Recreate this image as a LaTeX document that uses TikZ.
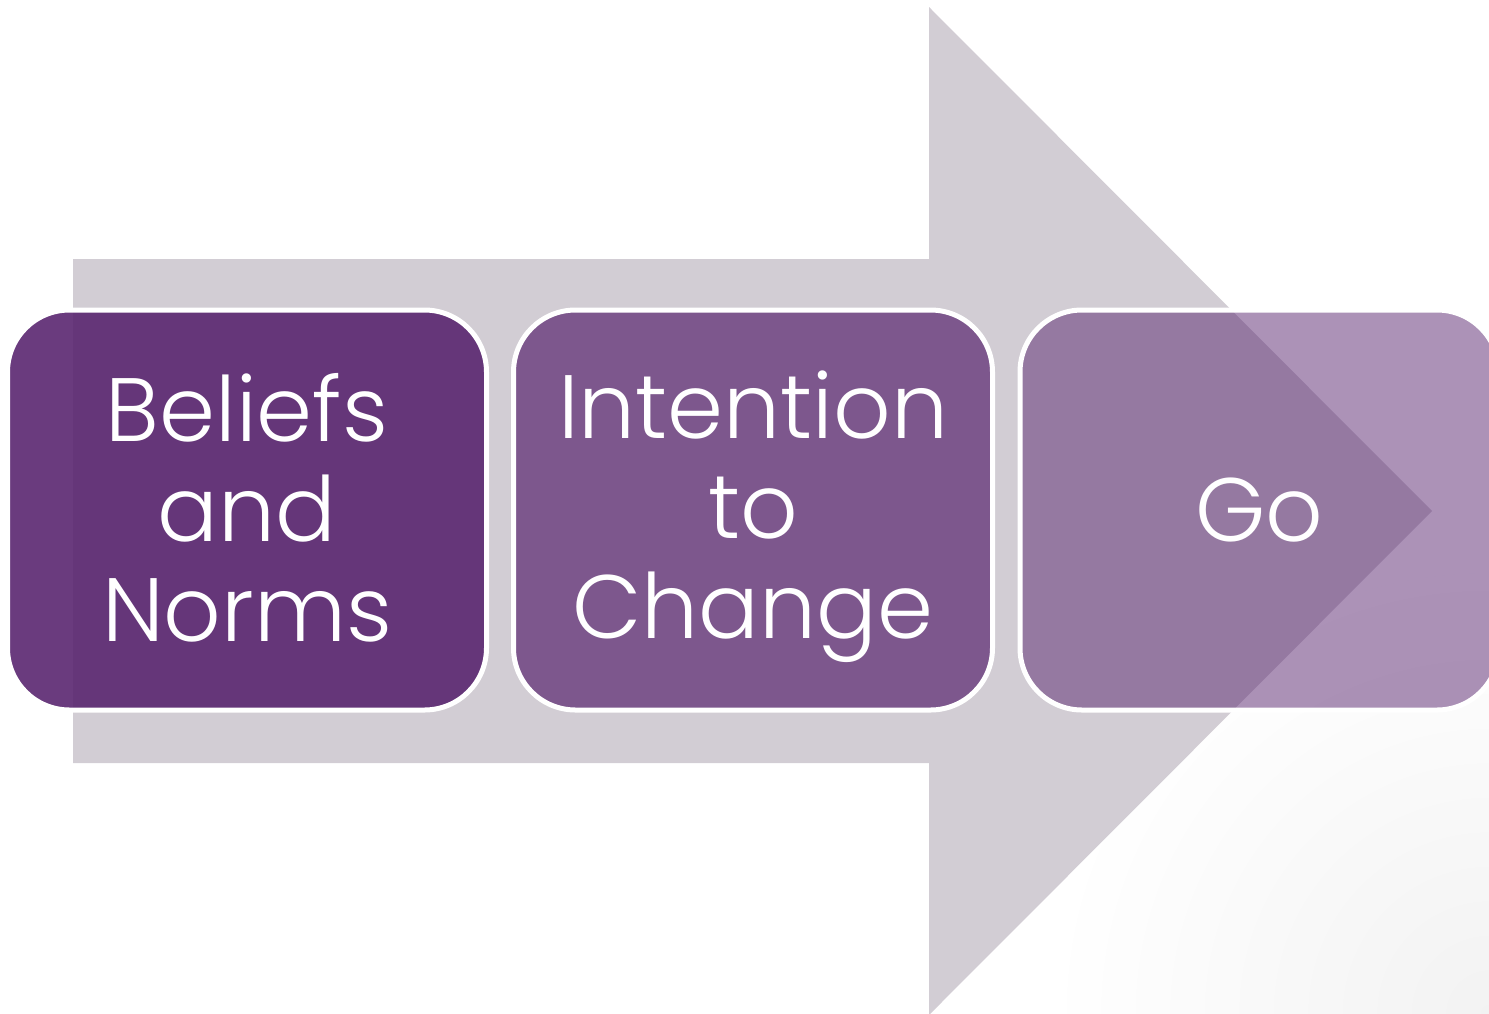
\documentclass[tikz,border=0pt]{standalone}
\usepackage{fontspec}
\setmainfont{Poppins}[UprightFont=* Light]
\definecolor{arrowgrey}{RGB}{210,205,212}
\definecolor{basepurple}{RGB}{90,38,112}
\newcommand\lnstrut{\rule[-19pt]{0pt}{100pt}}
\begin{document}
\begin{tikzpicture}[x=1pt,y=-1pt,
  stage/.style={draw=white, line width=5pt, fill=basepurple, rounded corners=62pt,
    minimum width=479pt, minimum height=400pt, inner sep=0pt, align=center,
    text=white, text opacity=1, font=\fontsize{90}{100}\selectfont},
]
\useasboundingbox (0,0) rectangle (1489,1013);
% faint corner vignette
\begin{scope}
  \clip (0,0) rectangle (1489,1013);
  \shade[inner color=black!5, outer color=white] (1489,1013) circle[radius=440];
\end{scope}
% big background arrow
\fill[arrowgrey] (73,259) -- (929,259) -- (929,7) -- (1432,511) -- (929,1015)
  -- (929,763) -- (73,763) -- cycle;
\node[stage, fill opacity=0.9] (beliefs) at (247,510)
  {\lnstrut Beliefs\\\lnstrut and\\\lnstrut Norms};
\node[stage, fill opacity=0.7] (intention) at (753,510)
  {\lnstrut Intention\\\lnstrut to\\\lnstrut Change};
\node[stage, fill opacity=0.5] (go) at (1259.5,510) {\lnstrut Go};
\end{tikzpicture}
\end{document}
